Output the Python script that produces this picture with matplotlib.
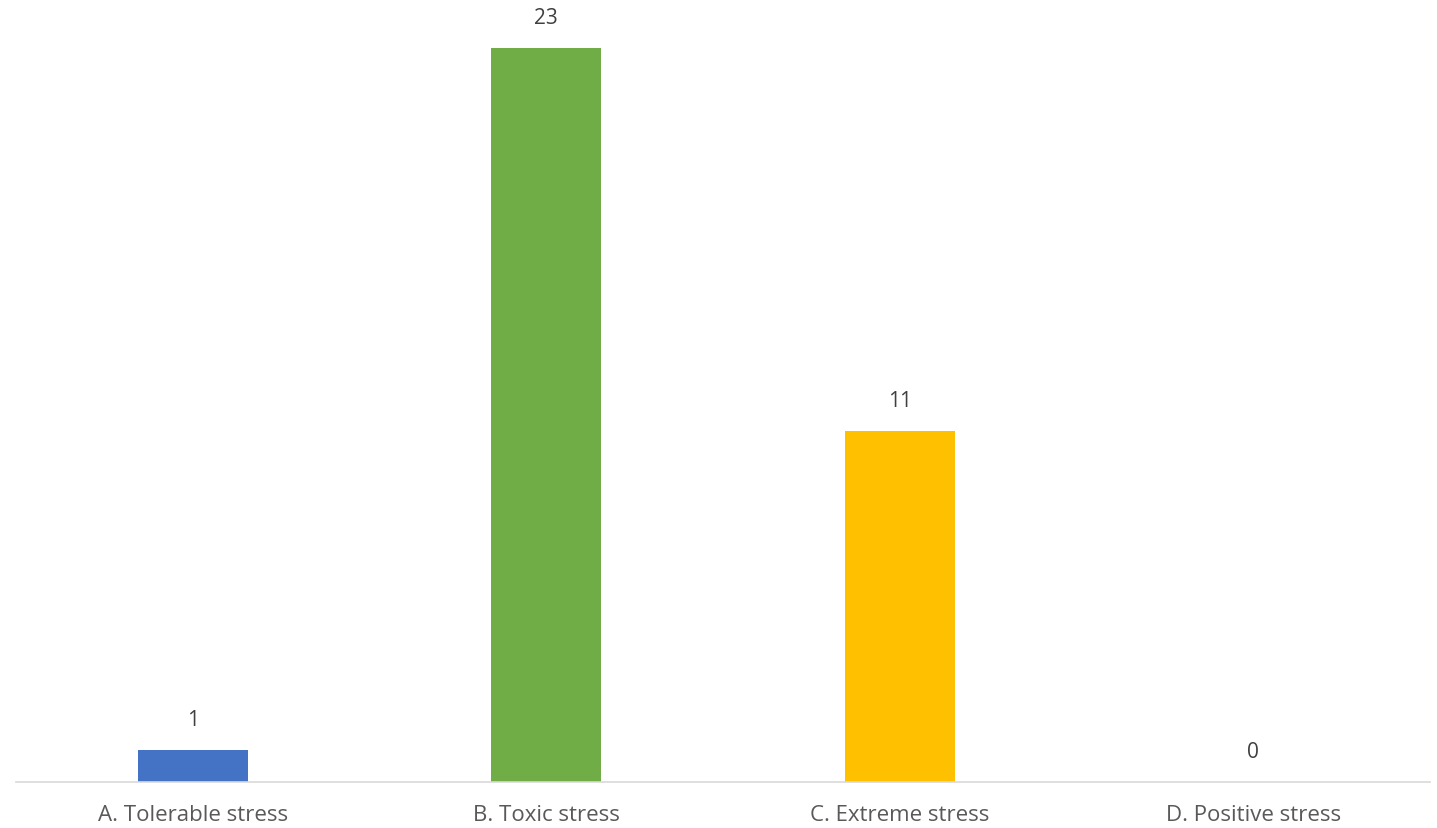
import matplotlib
matplotlib.use("Agg")
import matplotlib.pyplot as plt

categories = ["A. Tolerable stress", "B. Toxic stress", "C. Extreme stress", "D. Positive stress"]
values = [1, 23, 11, 0]
colors = ["#4472C4", "#70AD47", "#FFC000", "#A5A5A5"]

W, H = 1437, 829
fig = plt.figure(figsize=(W / 100, H / 100), dpi=100)
ax = fig.add_axes([16 / W, (H - 782.5) / H, (1430 - 16) / W, 782.5 / H])
x = list(range(len(categories)))
bars = ax.bar(x, values, width=0.31, color=colors, zorder=2)
ax.set_xlim(-0.5, len(categories) - 0.5)
ax.set_ylim(0, 782.5 / 31.9)

for xi, v in zip(x, values):
    ax.annotate(str(v), (xi, v), xytext=(0, 30), textcoords="offset pixels",
                ha="center", va="center", fontsize=15, color="#404040",
                family="Open Sans")

ax.set_xticks(x)
ax.set_xticklabels(categories, fontsize=16, color="#595959", family="Open Sans")
ax.tick_params(axis="x", length=0, pad=16)
ax.set_yticks([])
for s in ["top", "right", "left"]:
    ax.spines[s].set_visible(False)
ax.spines["bottom"].set_color("#D9D9D9")
ax.spines["bottom"].set_linewidth(1.2)

fig.savefig("out.png", dpi=100)
